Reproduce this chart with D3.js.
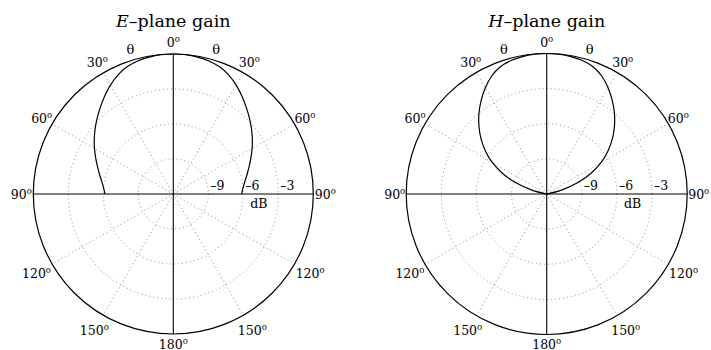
<!DOCTYPE html>
<html><head><meta charset="utf-8">
<script src="https://cdn.jsdelivr.net/npm/d3@7"></script>
<style>body{margin:0;background:#fff}svg{display:block}</style>
</head><body>
<svg id="c" width="711" height="350"></svg>
<script>
// ---- data ----
const thetaDeg = [0,5,10,15,20,25,30,35,40,45,50,55,60,65,70,75,80,85,90];
const eplaneDb = [0,-0.02,-0.08,-0.20,-0.40,-0.75,-1.22,-1.75,-2.28,-2.78,-3.26,-3.73,-4.20,-4.66,-5.08,-5.45,-5.77,-6.00,-6.15];
const hplaneDb = [0,-0.02,-0.08,-0.20,-0.43,-0.88,-1.52,-2.24,-3.00,-3.82,-4.68,-5.62,-6.65,-7.85,-9.20,-10.7,-12.4,-14.5,-20.0];
const dbTicks = [-9,-6,-3];
const angleTicks = [0,30,60,90,120,150,180,210,240,270,300,330];
const angleLabels = ["0","30","60","90","120","150","180","150","120","90","60","30"];
const titles = [["E","–plane gain"],["H","–plane gain"]];

const svg = d3.select("#c");
const FONT = "DejaVu Serif";

function drawPanel(cx, cy, R, db, title){
  const g = svg.append("g").attr("transform",`translate(${cx},${cy})`);
  const r = d3.scaleLinear().domain([-12,0]).range([0,R]).clamp(true);
  const toRad = d => d*Math.PI/180;

  // dotted grid circles
  g.selectAll("circle.grid").data(dbTicks).enter().append("circle")
    .attr("r", d=>r(d)).attr("fill","none").attr("stroke","#8a8a8a")
    .attr("stroke-width",1).attr("stroke-dasharray","1,3");
  // dotted spokes
  const spokes = angleTicks.filter(a=>a%90!==0);
  g.selectAll("line.spoke").data(spokes).enter().append("line")
    .attr("x1",0).attr("y1",0)
    .attr("x2",a=>R*Math.sin(toRad(a))).attr("y2",a=>-R*Math.cos(toRad(a)))
    .attr("stroke","#8a8a8a").attr("stroke-width",1).attr("stroke-dasharray","1,3");
  // solid axes
  g.append("line").attr("x1",-R).attr("x2",R).attr("y1",0).attr("y2",0).attr("stroke","#000").attr("stroke-width",1.1);
  g.append("line").attr("x1",0).attr("x2",0).attr("y1",-R).attr("y2",R).attr("stroke","#000").attr("stroke-width",1.1);
  // outer circle
  g.append("circle").attr("r",R).attr("fill","none").attr("stroke","#000").attr("stroke-width",1.2);

  // gain curve, mirrored about the vertical axis
  const pts = [];
  for(let i=thetaDeg.length-1;i>0;i--) pts.push([-thetaDeg[i], db[i]]);
  for(let i=0;i<thetaDeg.length;i++) pts.push([thetaDeg[i], db[i]]);
  const line = d3.lineRadial().angle(d=>toRad(d[0])).radius(d=>r(d[1])).curve(d3.curveCatmullRom);
  g.append("path").attr("d",line(pts)).attr("fill","none").attr("stroke","#000").attr("stroke-width",1.2);

  // angle labels
  angleTicks.forEach((a,i)=>{
    const rl = a===180 ? 150 : ((a>90 && a<270) ? 158 : 152);
    const t = g.append("text").attr("x",rl*Math.sin(toRad(a))).attr("y",-rl*Math.cos(toRad(a))+4.5)
      .attr("text-anchor","middle").attr("font-family",FONT).attr("font-size",12.5).attr("fill","#000");
    t.append("tspan").text(angleLabels[i]);
    t.append("tspan").attr("dy",-5).attr("font-size",8.5).text("o");
  });
  // theta labels
  [-16.5,16.5].forEach(a=>{
    g.append("text").attr("x",151*Math.sin(toRad(a))).attr("y",-151*Math.cos(toRad(a))+5)
      .attr("text-anchor","middle").attr("font-family",FONT).attr("font-size",13).text("θ");
  });
  // dB labels
  g.selectAll("text.db").data(dbTicks).enter().append("text")
    .attr("x",d=>r(d)+2).attr("y",-4).attr("font-family",FONT).attr("font-size",12.5)
    .text(d=>"–"+Math.abs(d));
  g.append("text").attr("x",r(-6)+7).attr("y",14).attr("font-family",FONT).attr("font-size",12.5).text("dB");

  // title
  const tt = g.append("text").attr("x",0).attr("y",27-cy).attr("text-anchor","middle")
    .attr("font-family",FONT).attr("font-size",17.5);
  tt.append("tspan").attr("font-style","italic").text(title[0]);
  tt.append("tspan").text(title[1]);
}

drawPanel(173.3,194,140,eplaneDb,titles[0]);
drawPanel(546.7,194,140.5,hplaneDb,titles[1]);
</script>
</body></html>
